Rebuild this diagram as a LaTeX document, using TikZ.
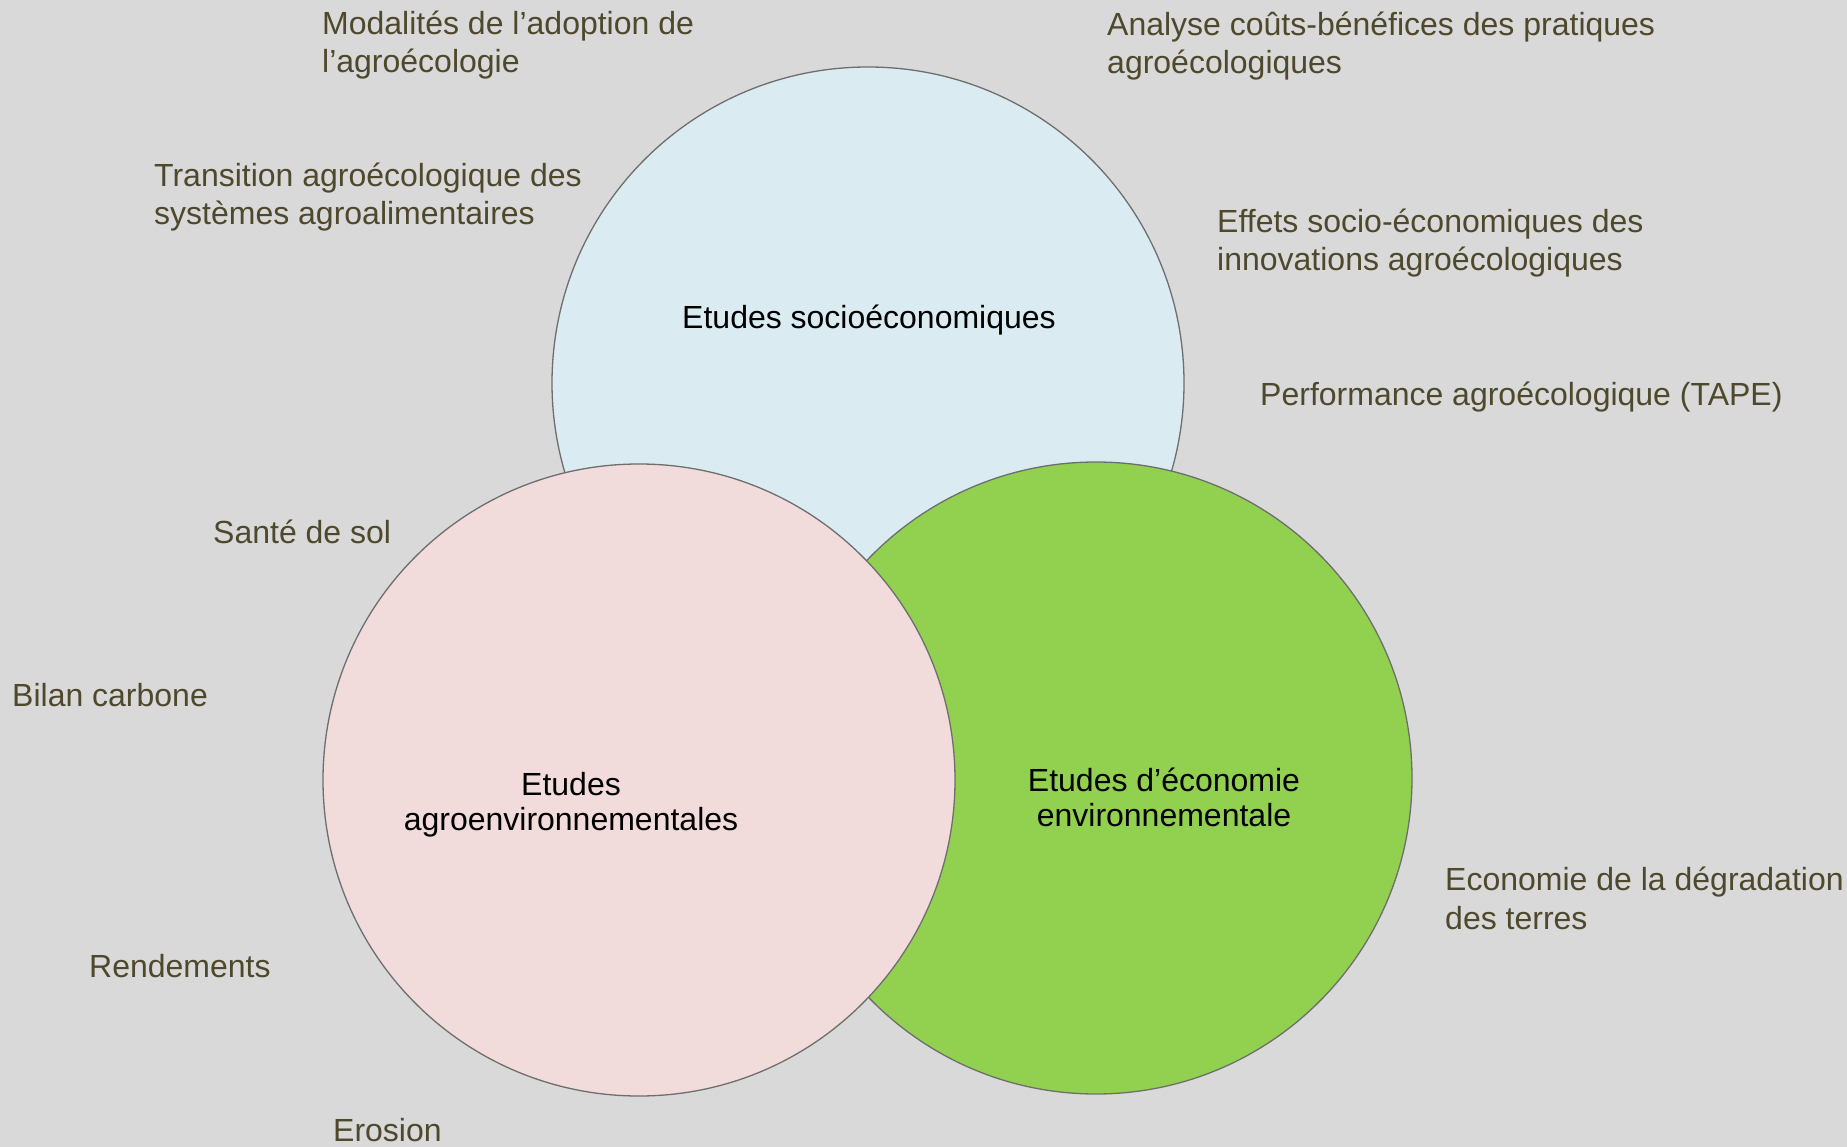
\documentclass[tikz,border=0pt]{standalone}
\usepackage{fontspec}
\setmainfont{Liberation Sans}
\definecolor{bg}{RGB}{217,217,217}
\definecolor{txtol}{RGB}{78,72,44}
\definecolor{fblue}{RGB}{218,236,241}
\definecolor{fpink}{RGB}{241,219,219}
\definecolor{fgreen}{RGB}{146,208,80}
\definecolor{edge}{RGB}{110,110,110}
\tikzset{
  venn/.style={draw=edge, line width=1.3pt},
  outer/.style={anchor=base west, align=left, inner sep=0pt, text=txtol,
    font=\fontsize{32}{38.3}\selectfont},
  inner/.style={anchor=base, align=center, inner sep=0pt, text=black,
    font=\fontsize{32}{34.5}\selectfont}
}
\begin{document}
\begin{tikzpicture}[x=1pt,y=-1pt]
\fill[bg] (0,0) rectangle (1847,1147);
\useasboundingbox (0,0) rectangle (1847,1147);
% circles
\draw[venn, fill=fblue] (868,383) circle (316);
\draw[venn, fill=fgreen] (1096,778) circle (316);
\draw[venn, fill=fpink] (639,780) circle (316);
% circle labels (anchor = baseline of last line)
\node[inner] (socio) at (869,329) {Etudes socioéconomiques};
\node[inner] (agro) at (571,830) {Etudes\\agroenvironnementales};
\node[inner] (eco) at (1164,826) {Etudes d’économie\\environnementale};
% outer labels (anchor = baseline of last line)
\node[outer] (l1) at (322,73) {Modalités de l’adoption de\\l’agroécologie};
\node[outer] (l2) at (1107,74) {Analyse coûts-bénéfices des pratiques\\agroécologiques};
\node[outer] (l3) at (154,225) {Transition agroécologique des\\systèmes agroalimentaires};
\node[outer] (l4) at (1217,271) {Effets socio-économiques des\\innovations agroécologiques};
\node[outer] (l5) at (1260,406) {Performance agroécologique (TAPE)};
\node[outer] (l6) at (213,543) {Santé de sol};
\node[outer] (l7) at (12,706) {Bilan carbone};
\node[outer] (l8) at (89,977) {Rendements};
\node[outer] (l9) at (333,1141) {Erosion};
\node[outer] (l10) at (1445,929) {Economie de la dégradation\\des terres};
\end{tikzpicture}
\end{document}
